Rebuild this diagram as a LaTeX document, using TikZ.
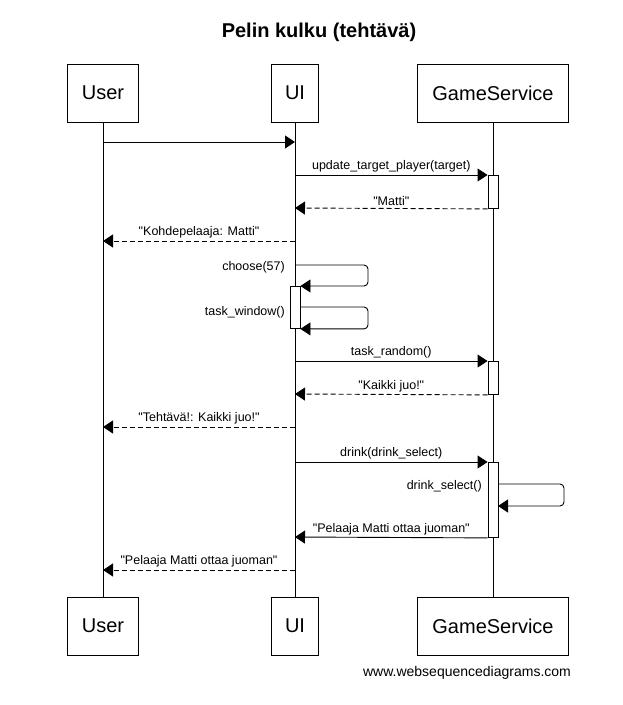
\documentclass[tikz,border=0pt]{standalone}
\usepackage{fontspec}
\setmainfont{Liberation Sans}[Ligatures=TeXOff]
\usetikzlibrary{arrows.meta}

\begin{document}
\begin{tikzpicture}[x=1pt, y=-1pt, >={Triangle[length=10pt,width=13pt]},
	actor/.style={draw, line width=0.9pt, minimum height=58pt, inner sep=0pt,
		font=\fontsize{20}{24}\selectfont},
	act/.style={draw, fill=white, line width=0.9pt, minimum width=10pt, inner sep=0pt},
	msg/.style={->, line width=0.9pt},
	ret/.style={->, line width=0.9pt, dash pattern=on 5pt off 3pt},
	lbl/.style={above, inner sep=2pt, font=\fontsize{12.5}{15}\selectfont},
	side/.style={anchor=east, inner sep=0pt, font=\fontsize{12.5}{15}\selectfont}]
	\useasboundingbox (0,0) rectangle (622,705);

	\node[font=\bfseries\fontsize{20}{24}\selectfont] (title) at (319,32) {Pelin kulku (tehtävä)};

	% participants
	\node[actor, minimum width=71pt] (user) at (103,93) {User};
	\node[actor, minimum width=47pt] (ui) at (295,93) {UI};
	\node[actor, minimum width=151pt] (gs) at (493,93) {GameService};
	\node[actor, minimum width=71pt] (userb) at (103,626) {User};
	\node[actor, minimum width=47pt] (uib) at (295,626) {UI};
	\node[actor, minimum width=151pt] (gsb) at (493,626) {GameService};

	\draw[line width=0.9pt] (user) -- (userb);
	\draw[line width=0.9pt] (ui) -- (uib);
	\draw[line width=0.9pt] (gs) -- (gsb);

	% activations
	\node[act, minimum height=33pt, anchor=north] (g1) at (493,175) {};
	\node[act, minimum height=42pt, anchor=north] (a1) at (295,286) {};
	\node[act, minimum height=33pt, anchor=north] (g2) at (493,361) {};
	\node[act, minimum height=75pt, anchor=north] (g3) at (493,462) {};

	\coordinate (user1) at (103,142);
	\coordinate (ui1) at (295,142);
	\coordinate (ui2) at (295,175);
	\coordinate (ui3) at (295,208);
	\coordinate (ui4) at (295,241);
	\coordinate (user4) at (103,241);
	\coordinate (ui5) at (295,265);
	\coordinate (ui6) at (300,307);
	\coordinate (ui7) at (295,361);
	\coordinate (ui8) at (295,394);
	\coordinate (ui9) at (295,427);
	\coordinate (user9) at (103,427);
	\coordinate (ui10) at (295,462);
	\coordinate (gs11) at (498,484);
	\coordinate (gs11b) at (498,506);
	\coordinate (ui12) at (295,537);
	\coordinate (ui13) at (295,570);
	\coordinate (user13) at (103,570);

	% messages
	\draw[msg] (user1) -- (ui1);
	\draw[msg] (ui2) -- node[lbl] {update\_target\_player(target)} (g1.north west);
	\draw[ret] (g1.south west) -- node[lbl] {"Matti"} (ui3);
	\draw[ret] (ui4) -- node[lbl] {"Kohdepelaaja: Matti"} (user4);

	\draw[msg, rounded corners=4pt] (ui5) -- ++(73,0) |- (a1.north east);
	\node[side] (l5) at (285,267) {choose(57)};
	\draw[msg, rounded corners=4pt] (ui6) -- ++(68,0) |- (a1.south east);
	\node[side] (l6) at (285,312) {task\_window()};

	\draw[msg] (ui7) -- node[lbl] {task\_random()} (g2.north west);
	\draw[ret] (g2.south west) -- node[lbl] {"Kaikki juo!"} (ui8);
	\draw[ret] (ui9) -- node[lbl] {"Tehtävä!: Kaikki juo!"} (user9);

	\draw[msg] (ui10) -- node[lbl] {drink(drink\_select)} (g3.north west);
	\draw[msg, rounded corners=4pt] (gs11) -- ++(66,0) |- (gs11b);
	\node[side] (l11) at (482,486) {drink\_select()};
	\draw[msg] (g3.south west) -- node[lbl] {"Pelaaja Matti ottaa juoman"} (ui12);
	\draw[ret] (ui13) -- node[lbl] {"Pelaaja Matti ottaa juoman"} (user13);

	\node[font=\fontsize{14}{17}\selectfont] (site) at (467,673) {www.websequencediagrams.com};
\end{tikzpicture}
\end{document}
